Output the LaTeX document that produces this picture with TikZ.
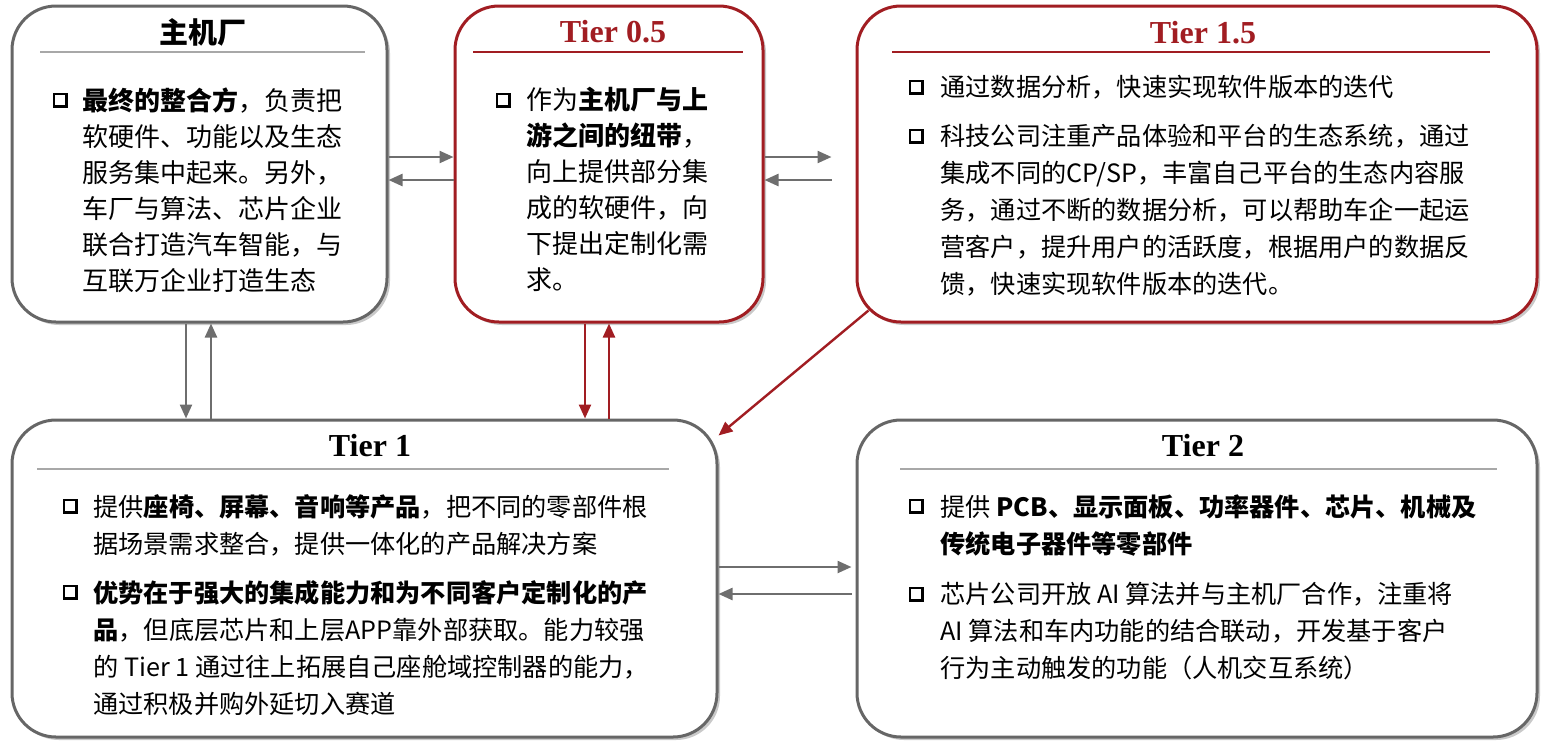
\documentclass[tikz,border=0pt]{standalone}
\usepackage{fontspec}
\setmainfont{Liberation Serif}
\newfontfamily\cjk{Noto Sans CJK SC}
\usetikzlibrary{arrows.meta,shadows}
\definecolor{tierred}{HTML}{A11D22}
\definecolor{boxgray}{HTML}{666666}
\definecolor{arrowgray}{HTML}{6E6E6E}
\definecolor{rulegray}{HTML}{A8A8A8}

\begin{document}
\begin{tikzpicture}[x=0.5pt,y=-0.5pt,>={Triangle[length=7pt,width=6pt]},
  box/.style={draw=boxgray,line width=1.5pt,rounded corners=22pt,fill=white,inner sep=0pt,
    drop shadow={shadow xshift=1.5pt,shadow yshift=-1.5pt,opacity=0.3,fill=black!70}},
  redbox/.style={box,draw=tierred},
  ttl/.style={font=\bfseries\fontsize{16}{16}\selectfont,inner sep=0pt},
  cnttl/.style={font=\cjk\bfseries\fontsize{14.5}{16}\selectfont,inner sep=0pt},
  txt/.style={font=\cjk\fontsize{13}{18}\selectfont,align=left,inner sep=0pt,anchor=north west},
  txtw/.style={font=\cjk\fontsize{12.6}{18.5}\selectfont,align=left,inner sep=0pt,anchor=north west},
  blt/.style={draw=black,line width=1.2pt,minimum size=6.3pt,inner sep=0pt,fill=white,
    drop shadow={shadow xshift=0.6pt,shadow yshift=-0.6pt,opacity=0.6,fill=black}},
  garrow/.style={->,draw=arrowgray,line width=1.2pt},
  rarrow/.style={->,draw=tierred,line width=1.2pt}]

  \useasboundingbox (0,0) rectangle (1544,746);

  % ================= boxes =================
  \node[box,minimum width=187.5pt,minimum height=158pt] (oem) at (199.5,164) {};
  \node[redbox,minimum width=154pt,minimum height=158pt] (t05) at (609,164) {};
  \node[redbox,minimum width=340pt,minimum height=158pt] (t15) at (1197,164) {};
  \node[box,minimum width=352.5pt,minimum height=158.5pt] (tone) at (364.5,578.5) {};
  \node[box,minimum width=340pt,minimum height=158.5pt] (ttwo) at (1197,578.5) {};

  % ================= 主机厂 =================
  \node[cnttl] (oemT) at (203,32) {主机厂};
  \draw[rulegray,line width=0.6pt] (40,52) -- (365,52);
  \node[blt] (oemB) at (60,100) {};
  \node[txt] (oemX) at (82,87) {\textbf{最终的整合方}，负责把\\软硬件、功能以及生态\\服务集中起来。另外，\\车厂与算法、芯片企业\\联合打造汽车智能，与\\互联万企业打造生态};

  % ================= Tier 0.5 =================
  \node[ttl,text=tierred] (t05T) at (613,32) {Tier 0.5};
  \draw[tierred,line width=0.6pt] (473,52) -- (743,52);
  \node[blt] (t05B) at (503,100) {};
  \node[txt] (t05X) at (526,87) {作为\textbf{主机厂与上}\\\textbf{游之间的纽带}，\\向上提供部分集\\成的软硬件，向\\下提出定制化需\\求。};

  % ================= Tier 1.5 =================
  \node[ttl,text=tierred] (t15T) at (1203,33) {Tier 1.5};
  \draw[tierred,line width=0.6pt] (892,52) -- (1490,52);
  \node[blt] (t15B1) at (916,87) {};
  \node[txtw] (t15X1) at (940,75) {通过数据分析，快速实现软件版本的迭代};
  \node[blt] (t15B2) at (916,136) {};
  \node[txtw] (t15X2) at (940,124) {科技公司注重产品体验和平台的生态系统，通过\\集成不同的CP/SP，丰富自己平台的生态内容服\\务，通过不断的数据分析，可以帮助车企一起运\\营客户，提升用户的活跃度，根据用户的数据反\\馈，快速实现软件版本的迭代。};

  % ================= Tier 1 =================
  \node[ttl] (toneT) at (370,446) {Tier 1};
  \draw[rulegray,line width=0.6pt] (37,469) -- (669,469);
  \node[blt] (toneB1) at (70,506) {};
  \node[txtw] (toneX1) at (93,494) {提供\textbf{座椅、屏幕、音响等产品}，把不同的零部件根\\据场景需求整合，提供一体化的产品解决方案};
  \node[blt] (toneB2) at (70,592) {};
  \node[txtw] (toneX2) at (93,580) {\textbf{优势在于强大的集成能力和为不同客户定制化的产}\\\textbf{品}，但底层芯片和上层APP靠外部获取。能力较强\\的 Tier 1 通过往上拓展自己座舱域控制器的能力，\\通过积极并购外延切入赛道};

  % ================= Tier 2 =================
  \node[ttl] (ttwoT) at (1203,446) {Tier 2};
  \draw[rulegray,line width=0.6pt] (900,469) -- (1497,469);
  \node[blt] (ttwoB1) at (916,506) {};
  \node[txtw] (ttwoX1) at (940,494) {提供 \textbf{PCB、显示面板、功率器件、芯片、机械及}\\\textbf{传统电子器件等零部件}};
  \node[blt] (ttwoB2) at (916,594) {};
  \node[txtw] (ttwoX2) at (940,582) {芯片公司开放 AI 算法并与主机厂合作，注重将\\AI 算法和车内功能的结合联动，开发基于客户\\行为主动触发的功能（人机交互系统）};

  % ================= arrows =================
  \draw[garrow] ([yshift=3.5pt]oem.east) -- ([yshift=3.5pt]t05.west);
  \draw[garrow] ([yshift=-8pt]t05.west) -- ([yshift=-8pt]oem.east);
  \draw[garrow,shorten >=12pt] ([yshift=3.5pt]t05.east) -- ([yshift=3.5pt]t15.west);
  \draw[garrow,shorten <=12pt] ([yshift=-8pt]t15.west) -- ([yshift=-8pt]t05.east);
  \draw[garrow] ([xshift=-6.75pt]oem.south) -- ([xshift=-6.75pt]oem.south |- tone.north);
  \draw[garrow] ([xshift=5.75pt]oem.south |- tone.north) -- ([xshift=5.75pt]oem.south);
  \draw[rarrow] ([xshift=-12pt]t05.south) -- ([xshift=-12pt]t05.south |- tone.north);
  \draw[rarrow] (t05.south |- tone.north) -- (t05.south);
  \draw[rarrow] ([xshift=6.5pt,yshift=6.5pt]t15.south west) -- (tone.22);
  \draw[garrow,shorten >=2pt] ([yshift=5.75pt]tone.east) -- ([yshift=5.75pt]ttwo.west);
  \draw[garrow,shorten <=2pt] ([yshift=-7.75pt]ttwo.west) -- ([yshift=-7.75pt]tone.east);
\end{tikzpicture}
\end{document}
